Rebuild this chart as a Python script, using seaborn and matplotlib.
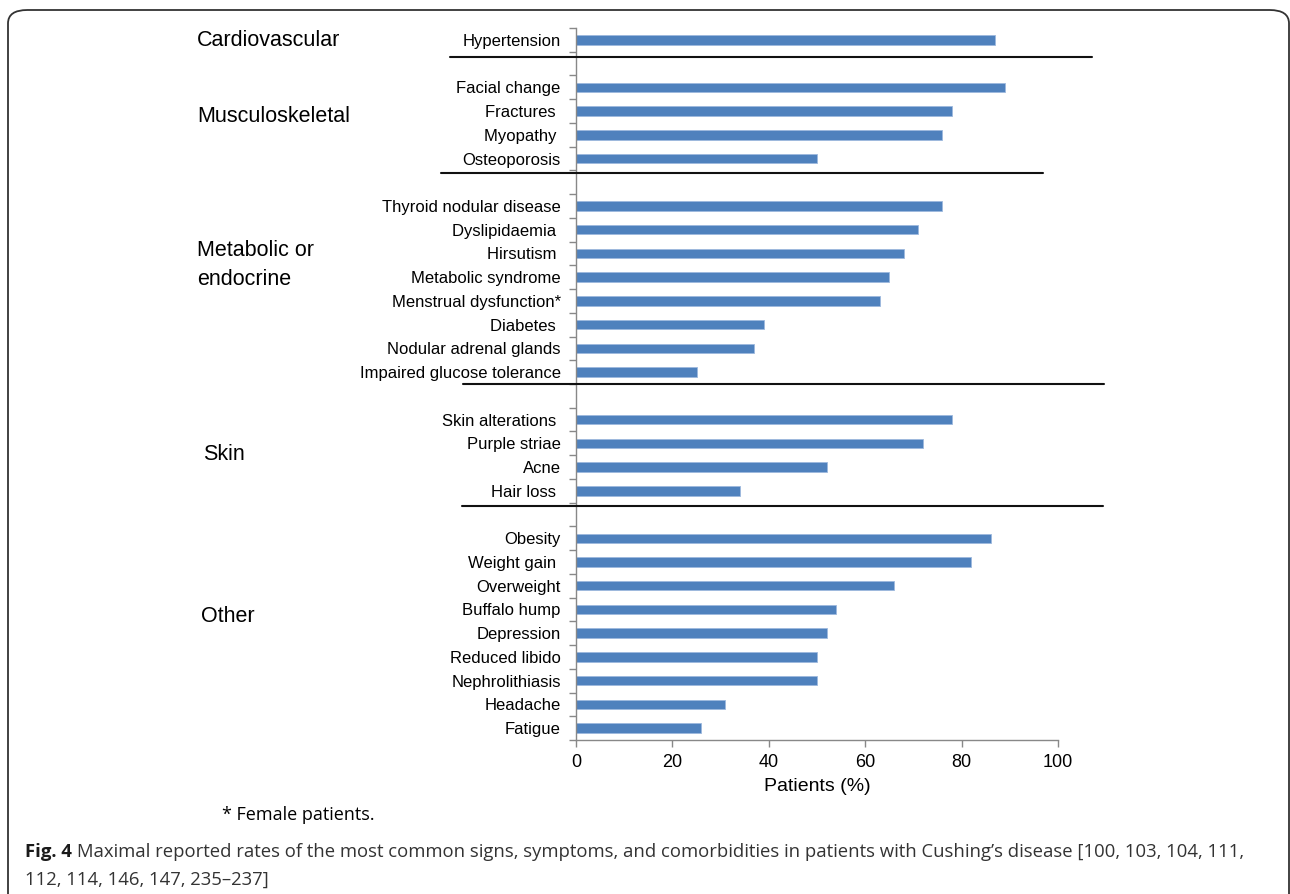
import matplotlib
matplotlib.use("Agg")
import matplotlib.pyplot as plt
import numpy as np
import pandas as pd
import seaborn as sns
from matplotlib.patches import FancyBboxPatch
from matplotlib.ticker import FixedLocator

# Data (patients, %)
cardio = ['Hypertension']
cardio_vals = [87]
musculo = ['Facial change', 'Fractures ', 'Myopathy ', 'Osteoporosis']
musculo_vals = [89, 78, 76, 50]
metabolic = ['Thyroid nodular disease', 'Dyslipidaemia ', 'Hirsutism ', 'Metabolic syndrome',
             'Menstrual dysfunction*', 'Diabetes ', 'Nodular adrenal glands', 'Impaired glucose tolerance']
metabolic_vals = [76, 71, 68, 65, 63, 39, 37, 25]
skin = ['Skin alterations ', 'Purple striae', 'Acne', 'Hair loss ']
skin_vals = [78, 72, 52, 34]
other = ['Obesity', 'Weight gain ', 'Overweight', 'Buffalo hump', 'Depression',
         'Reduced libido', 'Nephrolithiasis', 'Headache', 'Fatigue']
other_vals = [86, 82, 66, 54, 52, 50, 50, 31, 26]

group_names = ['Cardiovascular', 'Musculoskeletal', 'Metabolic or\nendocrine', 'Skin', 'Other']
x_ticks = [0, 20, 40, 60, 80, 100]

df = pd.DataFrame({
    'symptom': cardio + musculo + metabolic + skin + other,
    'value': cardio_vals + musculo_vals + metabolic_vals + skin_vals + other_vals,
})

# empty slots between the groups
gaps = [' ', '  ', '   ', '    ']
order = cardio + [gaps[0]] + musculo + [gaps[1]] + metabolic + [gaps[2]] + skin + [gaps[3]] + other

sns.set_style('white')
plt.rcParams['font.family'] = ['Liberation Sans', 'DejaVu Sans']
plt.rcParams['text.color'] = 'black'
plt.rcParams['axes.labelcolor'] = 'black'
plt.rcParams['xtick.color'] = 'black'
plt.rcParams['ytick.color'] = 'black'

fig = plt.figure(figsize=(12.9, 8.94), dpi=100)
ax = fig.add_axes([576 / 1290, 1 - 740 / 894, (1058 - 576) / 1290, (740 - 28) / 894])

sns.barplot(data=df, x='value', y='symptom', order=order, ax=ax,
            color='#4F81BD', saturation=1, width=0.4,
            edgecolor='#9DB9DE', linewidth=0.6)

ax.set_xlim(0, 100)
ax.set_ylim(len(order) - 0.5, -0.5)
ax.set_xticks(x_ticks)
ax.set_xlabel('Patients (%)', fontsize=14, labelpad=5)
ax.set_ylabel('')

ax.yaxis.set_minor_locator(FixedLocator(np.arange(-0.5, len(order), 1)))
ax.tick_params(axis='y', which='major', length=0, pad=11, labelsize=12, labelcolor='black')
ax.tick_params(axis='y', which='minor', left=True, length=5, width=1, color='#888888')
ax.tick_params(axis='x', which='major', bottom=True, length=5, width=1, color='#888888',
               labelsize=13, pad=5, labelcolor='black')

for s in ['top', 'right']:
    ax.spines[s].set_visible(False)
for s in ['left', 'bottom']:
    ax.spines[s].set_color('#888888')
    ax.spines[s].set_linewidth(1)

# group separator lines
seps = [(0.72, -26.1, 107.1), (5.61, -28.0, 96.9), (14.5, -23.4, 109.5), (19.64, -23.7, 109.3)]
for y, x0, x1 in seps:
    ax.plot([x0, x1], [y, y], color='#111111', lw=1.5, clip_on=False, zorder=5)

# group names
group_pos = [(197, 40), (197, 117), (197, 265), (203, 455), (201, 617)]
for name, (px, py) in zip(group_names, group_pos):
    fig.text(px / 1290, 1 - py / 894, name, fontsize=15.5, va='center', ha='left',
             linespacing=1.55, color='black')

fig.text(222 / 1290, 1 - 815 / 894, '* Female patients.', fontsize=13, va='center',
         family=['Open Sans', 'DejaVu Sans'], color='black')

# caption
cap_font = ['Open Sans', 'DejaVu Sans']
fig.canvas.draw()
bold = fig.text(25 / 1290, 1 - 852 / 894, 'Fig. 4', fontsize=13.3, fontweight='bold',
                va='center', color='#1a1a1a', family=cap_font)
fig.canvas.draw()
bb = bold.get_window_extent()
fig.text((bb.x1 + 5) / 1290, 1 - 852 / 894,
         "Maximal reported rates of the most common signs, symptoms, and comorbidities in patients "
         "with Cushing\u2019s disease [100, 103, 104, 111,",
         fontsize=13.3, va='center', color='#333333', family=cap_font)
fig.text(25 / 1290, 1 - 880 / 894, '112, 114, 146, 147, 235\u2013237]',
         fontsize=13.3, va='center', color='#333333', family=cap_font)

# rounded frame around the figure panel
frame = FancyBboxPatch((8 / 1290, -0.1), (1289 - 8) / 1290, 1.1 - 10 / 894,
                       boxstyle='round,pad=0,rounding_size=0.015',
                       transform=fig.transFigure, fill=False,
                       edgecolor='#333333', linewidth=1.3, clip_on=False)
fig.patches.append(frame)

fig.savefig('out.png', dpi=100)
